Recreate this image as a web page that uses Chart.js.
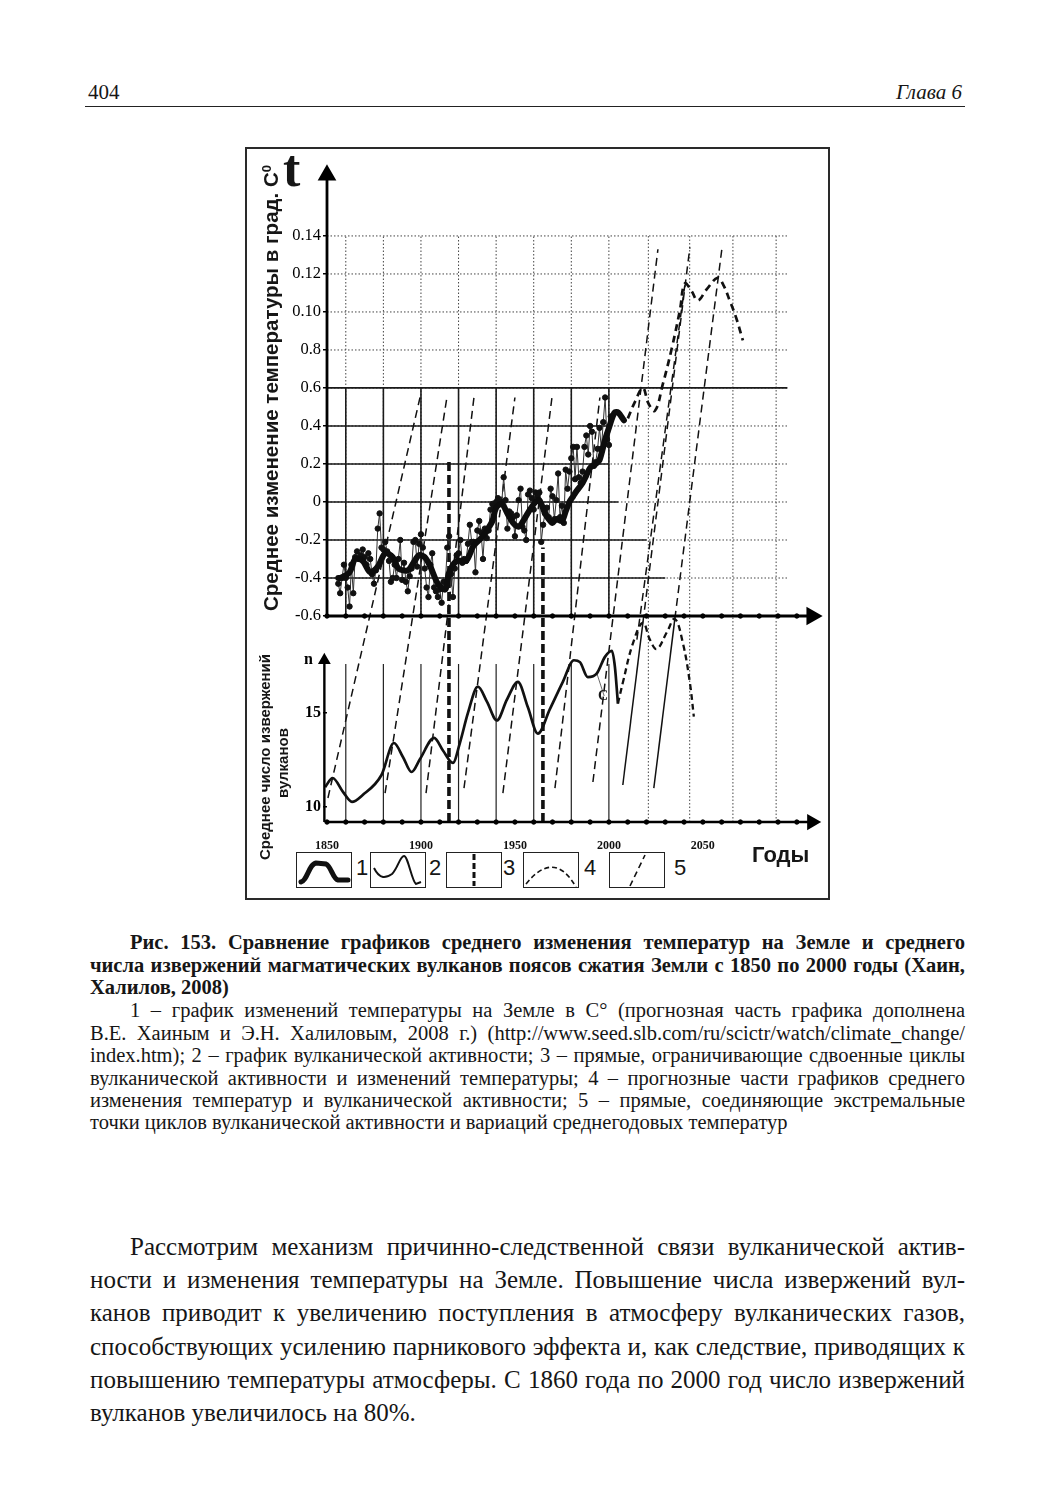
<!DOCTYPE html>
<html><head><meta charset="utf-8">
<script src="https://cdn.jsdelivr.net/npm/chart.js@4.4.1/dist/chart.umd.min.js"></script>
<style>
html,body{margin:0;padding:0;background:#fff;}
body{width:1043px;height:1500px;position:relative;overflow:hidden;font-family:"Liberation Serif","Times New Roman",serif;color:#161616;}
.abs{position:absolute;white-space:nowrap;}
.frame{position:absolute;left:245px;top:147px;width:581px;height:749px;border:2px solid #2a2a2a;}
#c{position:absolute;left:0;top:0;z-index:2;}
.rot{position:absolute;transform:translate(-50%,-50%) rotate(-90deg);white-space:nowrap;font-family:"Liberation Sans",Arial,sans-serif;font-weight:bold;}
.jl{position:absolute;white-space:nowrap;text-align:justify;text-align-last:justify;}
.cap{font-size:20.5px;line-height:22px;}
.capb{font-size:20.5px;line-height:22px;font-weight:bold;}
.body{font-size:25px;line-height:25px;}
.lg{position:absolute;top:852px;width:54px;height:34px;border:1.5px solid #222;z-index:3;background:#fff;}
.lgn{position:absolute;top:850px;font-family:"Liberation Sans",Arial,sans-serif;font-size:22px;line-height:36px;}
</style></head><body>

<div class="abs" style="left:88px;top:80px;font-size:21px;line-height:24px;">404</div>
<div class="abs" style="left:862px;top:80px;width:100px;text-align:right;font-size:21px;line-height:24px;font-style:italic;">Глава 6</div>
<div style="position:absolute;left:85px;top:106px;width:880px;height:0;border-top:1.6px solid #222;"></div>

<div class="frame"></div>
<canvas id="c" width="1043" height="1500"></canvas>

<div class="abs" style="left:283px;top:140px;font-size:52px;line-height:58px;font-weight:bold;z-index:3;">t</div>
<div class="rot" style="left:271px;top:388px;font-size:20.5px;z-index:3;">Среднее изменение температуры в град. С<sup style="font-size:13px;">0</sup></div>
<div class="rot" style="left:264px;top:757px;font-size:15px;z-index:3;">Среднее число извержений</div>
<div class="rot" style="left:282px;top:763px;font-size:15px;z-index:3;">вулканов</div>
<div class="abs" style="left:598px;top:687px;font-size:14px;line-height:18px;font-weight:bold;z-index:3;">C</div>

<div class="lg" style="left:296px;"><svg width="54" height="34"><path d="M4 29 C10 28 12 11 19 10 L29 11 C34 13 36 26 41 27 L51 27" fill="none" stroke="#111" stroke-width="5" stroke-linecap="round"/></svg></div>
<div class="lgn" style="left:356px;">1</div>
<div class="lg" style="left:370px;"><svg width="54" height="34"><path d="M3 15 C9 27 15 25 21 21 C27 15 29 3 33 3 C37 3 41 29 45 31 L50 29" fill="none" stroke="#111" stroke-width="2"/></svg></div>
<div class="lgn" style="left:429px;">2</div>
<div class="lg" style="left:446px;"><svg width="54" height="34"><line x1="27" y1="1" x2="27" y2="33" stroke="#111" stroke-width="3" stroke-dasharray="6 3"/></svg></div>
<div class="lgn" style="left:503px;">3</div>
<div class="lg" style="left:523px;"><svg width="54" height="34"><path d="M2 31 Q30 -4 52 34" fill="none" stroke="#111" stroke-width="1.6" stroke-dasharray="5 3"/></svg></div>
<div class="lgn" style="left:584px;">4</div>
<div class="lg" style="left:609px;"><svg width="54" height="34"><line x1="20" y1="33" x2="35" y2="2" stroke="#111" stroke-width="1.6" stroke-dasharray="6 4"/></svg></div>
<div class="lgn" style="left:674px;">5</div>
<div class="abs" style="left:752px;top:842px;font-family:'Liberation Sans',Arial,sans-serif;font-size:22px;line-height:26px;font-weight:bold;z-index:3;">Годы</div>

<div class="jl capb" style="left:130px;top:931px;width:835px;">Рис. 153. Сравнение графиков среднего изменения температур на Земле и среднего</div>
<div class="jl capb" style="left:90px;top:953.5px;width:875px;">числа извержений магматических вулканов поясов сжатия Земли с 1850 по 2000 годы (Хаин,</div>
<div class="abs capb" style="left:90px;top:975.5px;">Халилов, 2008)</div>
<div class="jl cap" style="left:130px;top:998.5px;width:835px;">1 – график изменений температуры на Земле в С° (прогнозная часть графика дополнена</div>
<div class="jl cap" style="left:90px;top:1021.5px;width:875px;">В.Е. Хаиным и Э.Н. Халиловым, 2008 г.) (http://www.seed.slb.com/ru/scictr/watch/climate_change/</div>
<div class="jl cap" style="left:90px;top:1043.5px;width:875px;">index.htm); 2 – график вулканической активности; 3 – прямые, ограничивающие сдвоенные циклы</div>
<div class="jl cap" style="left:90px;top:1066.5px;width:875px;">вулканической активности и изменений температуры; 4 – прогнозные части графиков среднего</div>
<div class="jl cap" style="left:90px;top:1088.5px;width:875px;">изменения температур и вулканической активности; 5 – прямые, соединяющие экстремальные</div>
<div class="abs cap" style="left:90px;top:1110.5px;">точки циклов вулканической активности и вариаций среднегодовых температур</div>

<div class="jl body" style="left:130px;top:1234px;width:835px;">Рассмотрим механизм причинно-следственной связи вулканической актив-</div>
<div class="jl body" style="left:90px;top:1267px;width:875px;">ности и изменения температуры на Земле. Повышение числа извержений вул-</div>
<div class="jl body" style="left:90px;top:1300px;width:875px;">канов приводит к увеличению поступления в атмосферу вулканических газов,</div>
<div class="jl body" style="left:90px;top:1334px;width:875px;">способствующих усилению парникового эффекта и, как следствие, приводящих к</div>
<div class="jl body" style="left:90px;top:1367px;width:875px;">повышению температуры атмосферы. С 1860 года по 2000 год число извержений</div>
<div class="abs body" style="left:90px;top:1400px;">вулканов увеличилось на 80%.</div>

<script>
// ===== DATA =====
// Annual temperature anomalies (dots), starting at annualStartYear
const annualStartYear = 1856;
const annualTemp = [
 -0.43,-0.48,-0.40,-0.33,-0.40,-0.45,-0.55,-0.33,-0.48,-0.29,
 -0.26,-0.30,-0.28,-0.25,-0.29,-0.33,-0.27,-0.30,-0.38,-0.43,
 -0.36,-0.14,-0.06,-0.24,-0.25,-0.21,-0.26,-0.31,-0.42,-0.40,
 -0.33,-0.40,-0.30,-0.20,-0.41,-0.32,-0.42,-0.47,-0.39,-0.35,
 -0.21,-0.20,-0.34,-0.22,-0.17,-0.24,-0.35,-0.45,-0.50,-0.33,
 -0.27,-0.45,-0.47,-0.50,-0.46,-0.53,-0.42,-0.42,-0.24,-0.18,
 -0.38,-0.50,-0.35,-0.28,-0.27,-0.20,-0.32,-0.30,-0.31,-0.22,
 -0.12,-0.21,-0.21,-0.37,-0.15,-0.10,-0.16,-0.30,-0.14,-0.19,
 -0.15,-0.04,-0.01,-0.03,0.00,0.02,-0.01,0.00,0.13,0.01,
 -0.14,-0.05,-0.06,-0.08,-0.18,-0.07,0.01,0.07,-0.13,-0.15,
 -0.20,0.04,0.06,0.02,-0.04,0.05,0.03,0.05,-0.21,-0.12,
 -0.06,-0.03,-0.08,0.07,0.03,-0.09,0.01,0.15,-0.08,-0.02,
 -0.11,0.17,0.07,0.16,0.23,0.29,0.12,0.29,0.13,0.10,
 0.16,0.29,0.35,0.25,0.40,0.37,0.19,0.21,0.28,0.39,
 0.28,0.42,0.55,0.33,0.30,0.45
];
// Smoothed temperature curve (thick line, legend 1)
const smoothYears = [1856,1857,1862,1865,1869,1873,1877,1881,1885,1888,1893,1896,1899,1902,1905,1909,1913,1915,1919,1924,1928,1932,1935,1938,1940,1943,1946,1949,1952,1955,1958,1961,1963,1966,1968,1970,1972,1975,1977,1979,1981,1983,1986,1988,1990,1993,1995,1998,2000,2003,2005,2008];
const smoothTemp  = [-0.40,-0.40,-0.37,-0.30,-0.31,-0.37,-0.34,-0.27,-0.29,-0.35,-0.36,-0.32,-0.28,-0.29,-0.34,-0.43,-0.46,-0.37,-0.31,-0.31,-0.23,-0.19,-0.15,-0.10,-0.03,-0.01,-0.06,-0.11,-0.13,-0.09,-0.04,0.00,0.01,-0.06,-0.09,-0.11,-0.09,-0.10,-0.05,0.00,0.03,0.06,0.10,0.14,0.18,0.20,0.22,0.33,0.39,0.47,0.47,0.43];
// Temperature forecast (legend 4, upper panel)
const fcYears = [2010.1,2014,2018.1,2021,2024.5,2028.7,2033.5,2037.8,2040.4,2044,2047.3,2052.1,2057.9,2061,2064.3,2067.7,2071.3];
const fcTemp  = [0.44,0.53,0.60,0.52,0.48,0.62,0.81,1.01,1.15,1.11,1.06,1.12,1.18,1.14,1.06,0.97,0.85];
// Volcanic eruptions (legend 2)
const volcYears = [1849,1853,1858.5,1863.3,1869,1879,1885.6,1890.4,1895,1899.5,1907,1911.7,1917,1920.7,1925,1930.3,1935.1,1940.4,1945.7,1951.6,1956.9,1962.2,1968.6,1975.5,1981.4,1984.6,1988.8,1993.6,1997.9,2001.6,2003.2,2004.8];
const volcN     = [11.06,11.54,10.8,10.27,10.64,11.7,13.4,12.66,11.86,12.55,13.67,13.0,12.34,13.4,15.0,16.4,15.6,14.6,15.7,16.65,15.3,13.9,15.2,16.65,17.8,17.7,16.9,17.1,17.98,18.3,17.45,15.5];
// Volcanic forecast (legend 4, lower panel)
const vfYears = [2004.8,2007.4,2012.8,2018.1,2021.8,2025.5,2030.9,2035.1,2039.4,2043.1,2045.2];
const vfN     = [15.5,16.6,18.7,19.8,18.9,18.4,19.3,20.0,18.7,16.6,14.8];
// Slanted lines (legend 5): start in eruption units, end in temperature units
const trendStartYear = [1850.5,1880.9,1902.7,1922.9,1943.6,1971.3,1991.5,2018.1,2014.9,2035.1];
const trendStartN    = [10.48,10.74,10.74,11.0,10.74,11.0,11.33,19.8,18.9,20.0];
const trendEndYear   = [1899.5,1913.8,1928.2,1950.0,1969.7,1995.2,2026.1,2043.1,2040.4,2060.1];
const trendEndT      = [0.55,0.55,0.55,0.55,0.55,0.55,1.33,1.34,1.14,1.33];
// Solid connecting lines in lower panel
const solidStartYear = [2007.4,2023.9];
const solidStartN    = [11.17,11.0];
const solidEndYear   = [2018.1,2035.1];
const solidEndN      = [19.8,20.0];
// Thin line from curve to label "C"
const cLineYears = [1993.6,1997.5];
const cLineN     = [17.1,15.9];
// Paired-cycle boundaries (legend 3)
const pairYears = [1914.9,1964.9];
const pairTopT  = [0.23,-0.24];
// Grid / ticks
const gridYears = [1860,1880,1900,1920,1940,1960,1980,2000,2021,2043,2066,2089];
const tTicks = [-0.6,-0.4,-0.2,0,0.2,0.4,0.6,0.8,1.0,1.2,1.4];
const tTickLabels = ["-0.6","-0.4","-0.2","0","0.2","0.4","0.6","0.8","0.10","0.12","0.14"];
const nTicks = [10,15,17.8];
const nTickLabels = ["10","15","n  "];
const hSolidT   = [-0.4,-0.2,0,0.2,0.4,0.6];
const hSolidEnd = [2030,2020,2005,2000,2000,2095];
const yearTicks = [1850,1900,1950,2000,2050];
const axisDotYears = [1850,1860,1870,1880,1890,1900,1910,1920,1930,1940,1950,1960,1970,1980,1990,2000,2010,2020,2030,2040,2050,2060,2070,2080,2090,2100];

// ===== layout of the shared vertical scale =====
const Y_MIN = -1.684, Y_MAX = 1.826;
const N_T0 = -1.605, N_T_PER_N = 0.099;   // where eruption units sit on the shared axis
const tOfN = n => N_T0 + (n - 10) * N_T_PER_N;
const N_BOTTOM = 9.2;
const X_MIN = 1850, X_MAX = 2115, GRID_RIGHT = 2095, AXIS_END = 2108;

const datasets = [];
function seg(pts, o){ datasets.push(Object.assign({type:'line',data:pts,pointRadius:0,borderColor:'#111',borderWidth:1,fill:false,clip:false,tension:0,order:5}, o||{})); }

// grid (dotted)
gridYears.forEach(y => {
  const bottom = y > 2005 ? tOfN(N_BOTTOM) : -0.6;
  seg([{x:y,y:bottom},{x:y,y:1.4}], {borderColor:'#444',borderWidth:1,borderDash:[1.5,2],order:20});
});
tTicks.slice(1).forEach(t => seg([{x:X_MIN,y:t},{x:GRID_RIGHT,y:t}], {borderColor:'#444',borderWidth:1,borderDash:[1.5,2],order:20}));
// solid grid segments
hSolidT.forEach((t,i) => seg([{x:X_MIN,y:t},{x:hSolidEnd[i],y:t}], {borderColor:'#1a1a1a',borderWidth:1.7,order:19}));
gridYears.filter(y => y <= 2000).forEach(y => {
  seg([{x:y,y:-0.6},{x:y,y:0.6}], {borderColor:'#1a1a1a',borderWidth:1.6,order:19});
  seg([{x:y,y:tOfN(N_BOTTOM)},{x:y,y:tOfN(17.6)}], {borderColor:'#222',borderWidth:1.2,order:19});
});
// paired-cycle thick dashed verticals
pairYears.forEach((y,i) => seg([{x:y,y:tOfN(N_BOTTOM)},{x:y,y:pairTopT[i]}], {borderWidth:3.6,borderDash:[9,4],order:6}));
// slanted dashed lines
trendStartYear.forEach((y,i) => seg([{x:y,y:tOfN(trendStartN[i])},{x:trendEndYear[i],y:trendEndT[i]}], {borderWidth:1.5,borderDash:[8,5],order:7}));
solidStartYear.forEach((y,i) => seg([{x:y,y:tOfN(solidStartN[i])},{x:solidEndYear[i],y:tOfN(solidEndN[i])}], {borderWidth:1.5,order:7}));
seg(cLineYears.map((y,i)=>({x:y,y:tOfN(cLineN[i])})), {borderWidth:0.8,borderColor:'#444',order:7});
// axes
const arrow = (r,rot) => ({pointRadius:c=>c.dataIndex===1?r:0, pointStyle:'triangle', pointRotation:rot, pointBackgroundColor:'#000', pointBorderColor:'#000'});
seg([{x:X_MIN,y:-0.6},{x:X_MIN,y:1.72}], Object.assign({borderWidth:2.8,borderColor:'#000',order:1}, arrow(8,0)));
seg([{x:1848.6,y:tOfN(N_BOTTOM)},{x:1848.6,y:tOfN(17.8)}], Object.assign({borderWidth:2.4,borderColor:'#000',order:1}, arrow(5,0)));
seg([{x:X_MIN,y:-0.6},{x:AXIS_END,y:-0.6}], Object.assign({borderWidth:2.8,borderColor:'#000',order:1}, arrow(8,90)));
seg([{x:X_MIN,y:tOfN(N_BOTTOM)},{x:AXIS_END,y:tOfN(N_BOTTOM)}], Object.assign({borderWidth:2.4,borderColor:'#000',order:1}, arrow(7,90)));
seg(axisDotYears.map(y=>({x:y,y:-0.6})).concat(axisDotYears.map(y=>({x:y,y:tOfN(N_BOTTOM)}))), {showLine:false,pointRadius:2.2,pointBackgroundColor:'#000',pointBorderColor:'#000',order:1});
// annual temperature (thin line with dots)
seg(annualTemp.map((v,i)=>({x:annualStartYear+i,y:v})), {borderWidth:1,borderColor:'#333',pointRadius:2.7,pointBackgroundColor:'#111',pointBorderColor:'#111',order:3});
// smoothed temperature (thick)
seg(smoothYears.map((y,i)=>({x:y,y:smoothTemp[i]})), {borderWidth:6,borderColor:'#0d0d0d',tension:0.3,borderCapStyle:'round',borderJoinStyle:'round',order:2});
// temperature forecast
seg(fcYears.map((y,i)=>({x:y,y:fcTemp[i]})), {borderWidth:2.7,borderDash:[7,5],tension:0.4,order:2});
// volcanoes
seg(volcYears.map((y,i)=>({x:y,y:tOfN(volcN[i])})), {borderWidth:2.7,cubicInterpolationMode:'monotone',order:2});
seg(vfYears.map((y,i)=>({x:y,y:tOfN(vfN[i])})), {borderWidth:2.3,borderDash:[6,4],tension:0.4,order:2});

const yTickVals = tTicks.concat(nTicks.map(tOfN));
const yTickLabels = tTickLabels.concat(nTickLabels);

new Chart(document.getElementById('c'), {
  type:'line',
  data:{datasets},
  options:{
    responsive:false, devicePixelRatio:1, animation:false, events:[],
    layout:{padding:{left:277,top:155,right:218,bottom:648}},
    plugins:{legend:{display:false},tooltip:{enabled:false}},
    scales:{
      x:{type:'linear',min:X_MIN,max:X_MAX,
         afterFit:s=>{s.height=30;},
         afterBuildTicks:s=>{s.ticks=yearTicks.map(v=>({value:v}));},
         grid:{display:false},border:{display:false},
         ticks:{autoSkip:false,maxRotation:0,padding:9,color:'#111',font:{family:'Liberation Serif',size:12,weight:'bold'},callback:v=>String(v)}},
      y:{type:'linear',min:Y_MIN,max:Y_MAX,
         afterFit:s=>{s.width=50;},
         afterBuildTicks:s=>{s.ticks=yTickVals.map(v=>({value:v}));},
         grid:{drawOnChartArea:false,drawTicks:true,tickLength:4,color:'#000',lineWidth:1.5},
         border:{display:false},
         ticks:{autoSkip:false,padding:2,color:'#000',
           font:c=>({family:'Liberation Serif',size:c.index>=tTicks.length?16:16.5,weight:c.index>=tTicks.length?'bold':'normal'}),
           callback:(v,i)=>yTickLabels[i]}}
    }
  }
});
</script>
</body></html>
